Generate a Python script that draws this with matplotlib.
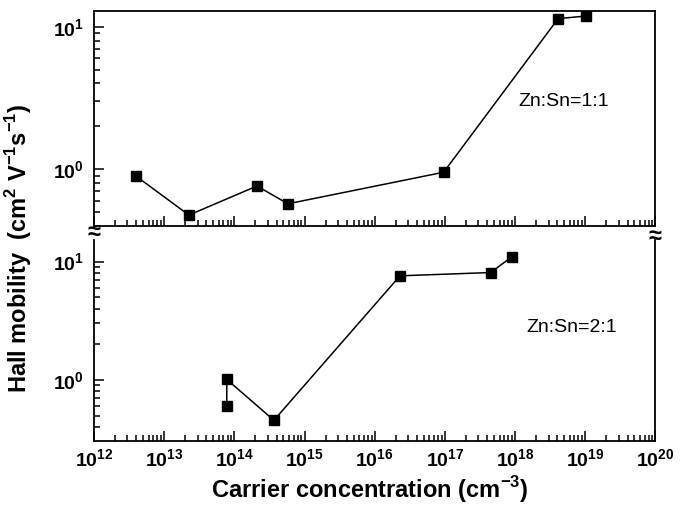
import matplotlib
matplotlib.use("Agg")
import matplotlib.pyplot as plt
from matplotlib.ticker import LogLocator, FixedLocator, NullFormatter
import numpy as np

plt.rcParams['font.family'] = ['Liberation Sans', 'DejaVu Sans']
plt.rcParams['mathtext.fontset'] = 'custom'
plt.rcParams['mathtext.rm'] = 'Liberation Sans'
plt.rcParams['mathtext.bf'] = 'Liberation Sans:bold'

# Zn:Sn = 1:1 films
conc_11 = [4.0e12, 2.25e13, 2.1e14, 5.8e14, 9.6e16, 4.1e18, 1.04e19]
mob_11 = [0.89, 0.475, 0.76, 0.57, 0.95, 11.4, 11.9]

# Zn:Sn = 2:1 films
conc_21 = [7.8e13, 7.8e13, 3.66e14, 2.29e16, 4.48e17, 8.9e17]
mob_21 = [0.60, 1.01, 0.456, 7.57, 8.07, 10.9]

x_decades = list(range(12, 21))
x_labels = [r'$\mathbf{10^{%d}}$' % d for d in x_decades]

fig = plt.figure(figsize=(6.83, 5.12), dpi=100)
ax1 = fig.add_axes([0.1376, 0.5592, 0.8221, 0.4193])
ax2 = fig.add_axes([0.1376, 0.1387, 0.8221, 0.3926])


def style_axis(ax, ylim):
    ax.set_xscale('log')
    ax.set_yscale('log')
    ax.set_xlim(1e12, 1e20)
    ax.set_ylim(*ylim)
    for s in ax.spines.values():
        s.set_linewidth(1.3)
    ax.xaxis.set_major_locator(FixedLocator([10.0 ** d for d in x_decades]))
    ax.xaxis.set_minor_locator(LogLocator(base=10, subs=np.arange(2, 10), numticks=20))
    ax.yaxis.set_major_locator(FixedLocator([1.0, 10.0]))
    ax.yaxis.set_minor_locator(LogLocator(base=10, subs=np.arange(2, 10), numticks=10))
    ax.yaxis.set_minor_formatter(NullFormatter())
    ax.xaxis.set_minor_formatter(NullFormatter())
    ax.set_yticklabels([r'$\mathbf{10^{0}}$', r'$\mathbf{10^{1}}$'])
    ax.tick_params(which='both', direction='in', top=False, right=False,
                   width=1.1, labelsize=14, pad=7)
    ax.tick_params(which='major', length=7)
    ax.tick_params(which='minor', length=4)
    ax.tick_params(axis='x', pad=5)


style_axis(ax1, (0.40, 12.9))
style_axis(ax2, (0.305, 15.2))

ax1.tick_params(axis='x', labelbottom=False)
ax2.set_xticklabels(x_labels)
ax2.spines['top'].set_visible(False)

ax1.plot(conc_11, mob_11, color='black', lw=1.1, marker='s', ms=6.5)
ax2.plot(conc_21, mob_21, color='black', lw=1.1, marker='s', ms=6.5)

ax1.text(5.0e18, 3.0, 'Zn:Sn=1:1', fontsize=14, ha='center', va='center')
ax2.text(6.5e18, 2.75, 'Zn:Sn=2:1', fontsize=14, ha='center', va='center')

# axis break marks
fig.text(0.1376, 1 - 233 / 512, '\u2248', fontsize=17, fontweight='bold',
         ha='center', va='center')
fig.text(0.9597, 1 - 236 / 512, '\u2248', fontsize=17, fontweight='bold',
         ha='center', va='center')

fig.text(0.542, 1 - 490 / 512, r'Carrier concentration (cm$^{\mathbf{-3}}$)',
         fontsize=17, fontweight='bold', ha='center', va='center')
fig.text(0.027, 1 - 248 / 512,
         r'Hall mobility  (cm$^{\mathbf{2}}$ V$^{\mathbf{-1}}$s$^{\mathbf{-1}}$)',
         fontsize=17, fontweight='bold', ha='center', va='center', rotation=90)

fig.savefig('out.png', dpi=100)
